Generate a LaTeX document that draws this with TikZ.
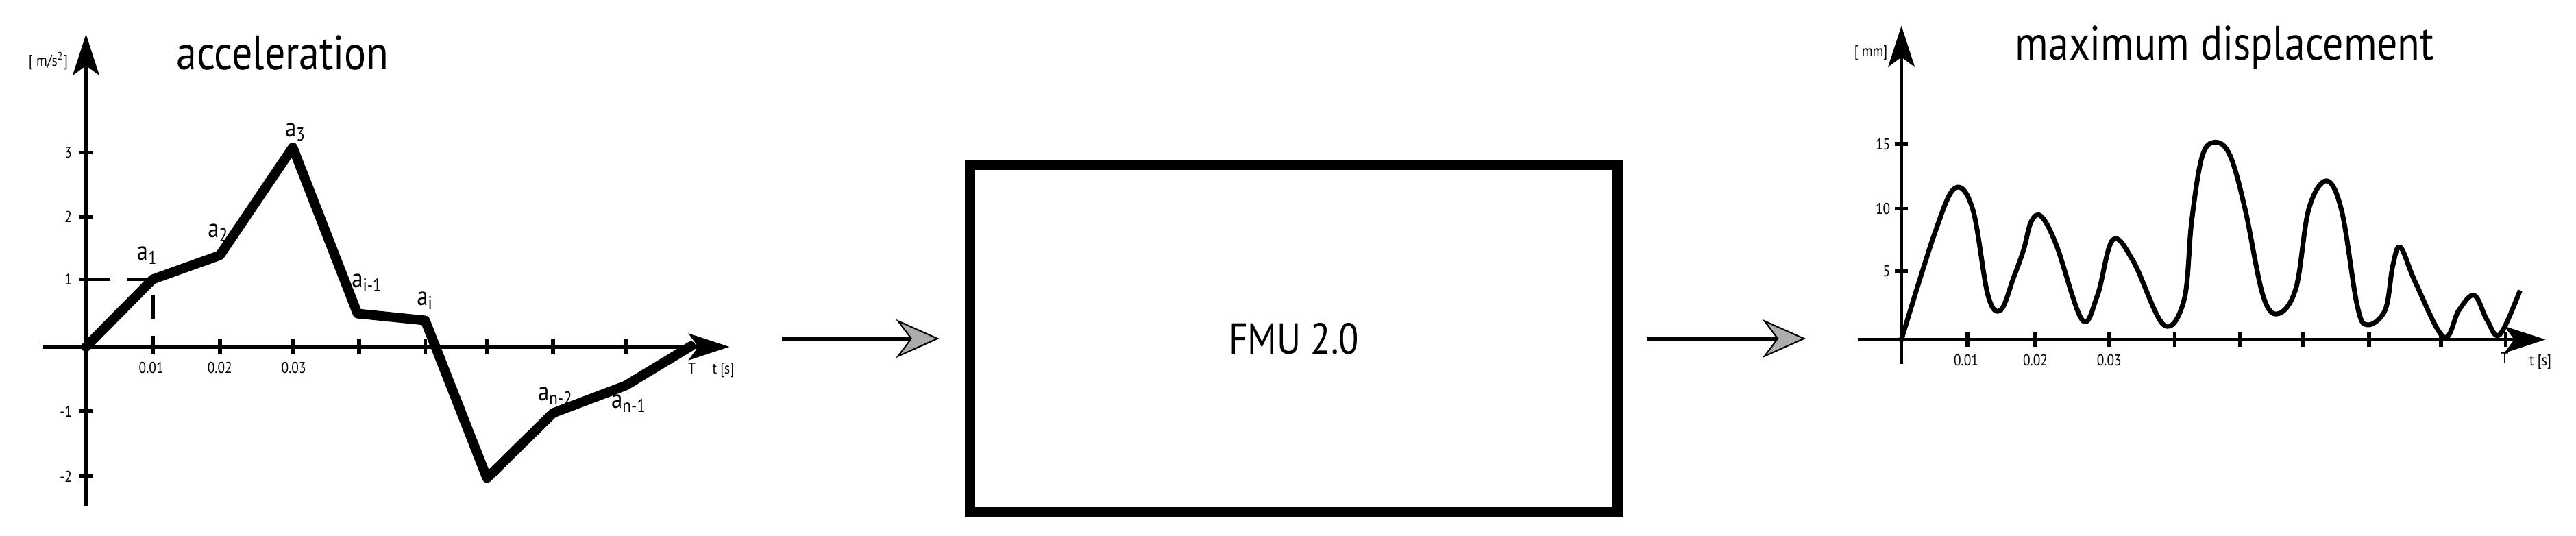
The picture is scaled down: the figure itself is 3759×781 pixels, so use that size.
\documentclass[tikz,border=0pt]{standalone}
\usepackage{fontspec}
\setmainfont{PT Sans}[FakeStretch=0.85]
\usetikzlibrary{arrows.meta}
\begin{document}
\begin{tikzpicture}[x=0.01cm,y=-0.01cm,
  ax/.style={line width=1.6pt,-{Stealth[length=17pt,width=11pt,inset=4pt]}},
  tk/.style={line width=1.6pt},
  lbl/.style={inner sep=0pt,font=\fontsize{6.5}{7}\selectfont},
  al/.style={inner sep=0pt,font=\fontsize{11}{12}\selectfont},
  ttl/.style={inner sep=0pt,font=\fontsize{20}{22}\selectfont},
  flow/.style={line width=1.6pt,-{Stealth[length=18pt,width=16pt,inset=6pt,fill=gray!65,line width=0.6pt]}}]
\useasboundingbox (0,0) rectangle (3759,781);
% ---------- left plot
\begin{scope}[xscale=0.705,yscale=0.5]
\coordinate (ly0) at (178,1475); \coordinate (ly1) at (178,100);
\coordinate (lx0) at (90,1012); \coordinate (lx1) at (1510,1012);
\draw[ax] (ly0) -- (ly1);
\draw[ax] (lx0) -- (lx1);
\foreach \y/\t in {445/3,632/2,815/1,1200/-1,1390/-2}{
  \draw[tk] (165,\y) -- (192,\y);
  \node[lbl,anchor=east] at (150,\y) {\t};}
\foreach \x in {316,455,606,743,880,1008,1145,1295}
  \draw[tk] (\x,990) -- (\x,1034);
\node[lbl] at (313,1072) {0.01};
\node[lbl] at (455,1072) {0.02};
\node[lbl] at (608,1072) {0.03};
\draw[line width=1.6pt,dash pattern=on 10pt off 7pt] (178,815) -- (316,815) -- (316,1012);
\draw[line width=4pt,line join=round,line cap=round]
  (178,1012) -- (316,815) -- (455,745) -- (606,430) -- (740,915) -- (880,935)
  -- (1008,1395) -- (1145,1205) -- (1295,1125) -- (1430,1010);
\fill (178,1012) circle[radius=7];
\node[al] at (612,385) {a\textsubscript{3}};
\node[al] at (452,680) {a\textsubscript{2}};
\node[al] at (305,745) {a\textsubscript{1}};
\node[al] at (760,825) {a\textsubscript{i-1}};
\node[al] at (880,878) {a\textsubscript{i}};
\node[al] at (1150,1155) {a\textsubscript{n-2}};
\node[al] at (1302,1178) {a\textsubscript{n-1}};
\node[lbl] at (1432,1075) {T};
\node[lbl] at (1497,1080) {t [s]};
\node[lbl] at (100,178) {[ m/s\textsuperscript{2}]};
\node[ttl] at (585,155) {acceleration};
\end{scope}
% ---------- middle
\node[draw,line width=4.3pt,minimum width=9.45cm,minimum height=5.06cm,inner sep=0pt,
  font=\fontsize{18}{20}\selectfont] (fmu) at (1888,494) {FMU 2.0};
\coordinate (in) at (1141,494);
\coordinate (out) at (2635,494);
\draw[flow,shorten >=0.37cm] (in) -- (fmu.west);
\draw[flow,shorten <=0.36cm] (fmu.east) -- (out);
% ---------- right plot
\begin{scope}[shift={(2600,0)},xscale=0.743,yscale=0.359]
\draw[ax] (235,1480) -- (235,105);
\draw[ax] (150,1380) -- (1500,1380);
\foreach \y/\t in {585/15,848/10,1103/5}{
  \draw[tk] (222,\y) -- (248,\y);
  \node[lbl,anchor=east] at (214,\y) {\t};}
\foreach \x in {365,498,643,772,900,1023,1153,1295,1422}
  \draw[tk] (\x,1350) -- (\x,1410);
\node[lbl] at (362,1465) {0.01};
\node[lbl] at (498,1465) {0.02};
\node[lbl] at (643,1465) {0.03};
\node[lbl] at (1420,1455) {T};
\node[lbl] at (1490,1470) {t [s]};
\node[lbl] at (175,215) {[ mm]};
\node[ttl] at (870,195) {maximum displacement};
\fill (235,1380) circle[radius=9];
\draw[line width=2pt,line join=round] plot[smooth,tension=0.6] coordinates {
 (235,1380) (300,950) (340,765) (375,850) (405,1200) (430,1260) (455,1130)
 (475,1015) (490,900) (510,880) (540,1000) (590,1300) (620,1200) (650,975)
 (690,1060) (750,1320) (790,1220) (805,900) (825,640) (850,578) (880,630)
 (910,850) (945,1200) (975,1275) (1010,1170) (1035,850) (1070,735) (1100,860)
 (1130,1240) (1150,1320) (1185,1260) (1200,1080) (1215,1005) (1245,1150)
 (1300,1370) (1330,1260) (1360,1200) (1385,1300) (1410,1360) (1450,1180)};
\end{scope}
\end{tikzpicture}
\end{document}
